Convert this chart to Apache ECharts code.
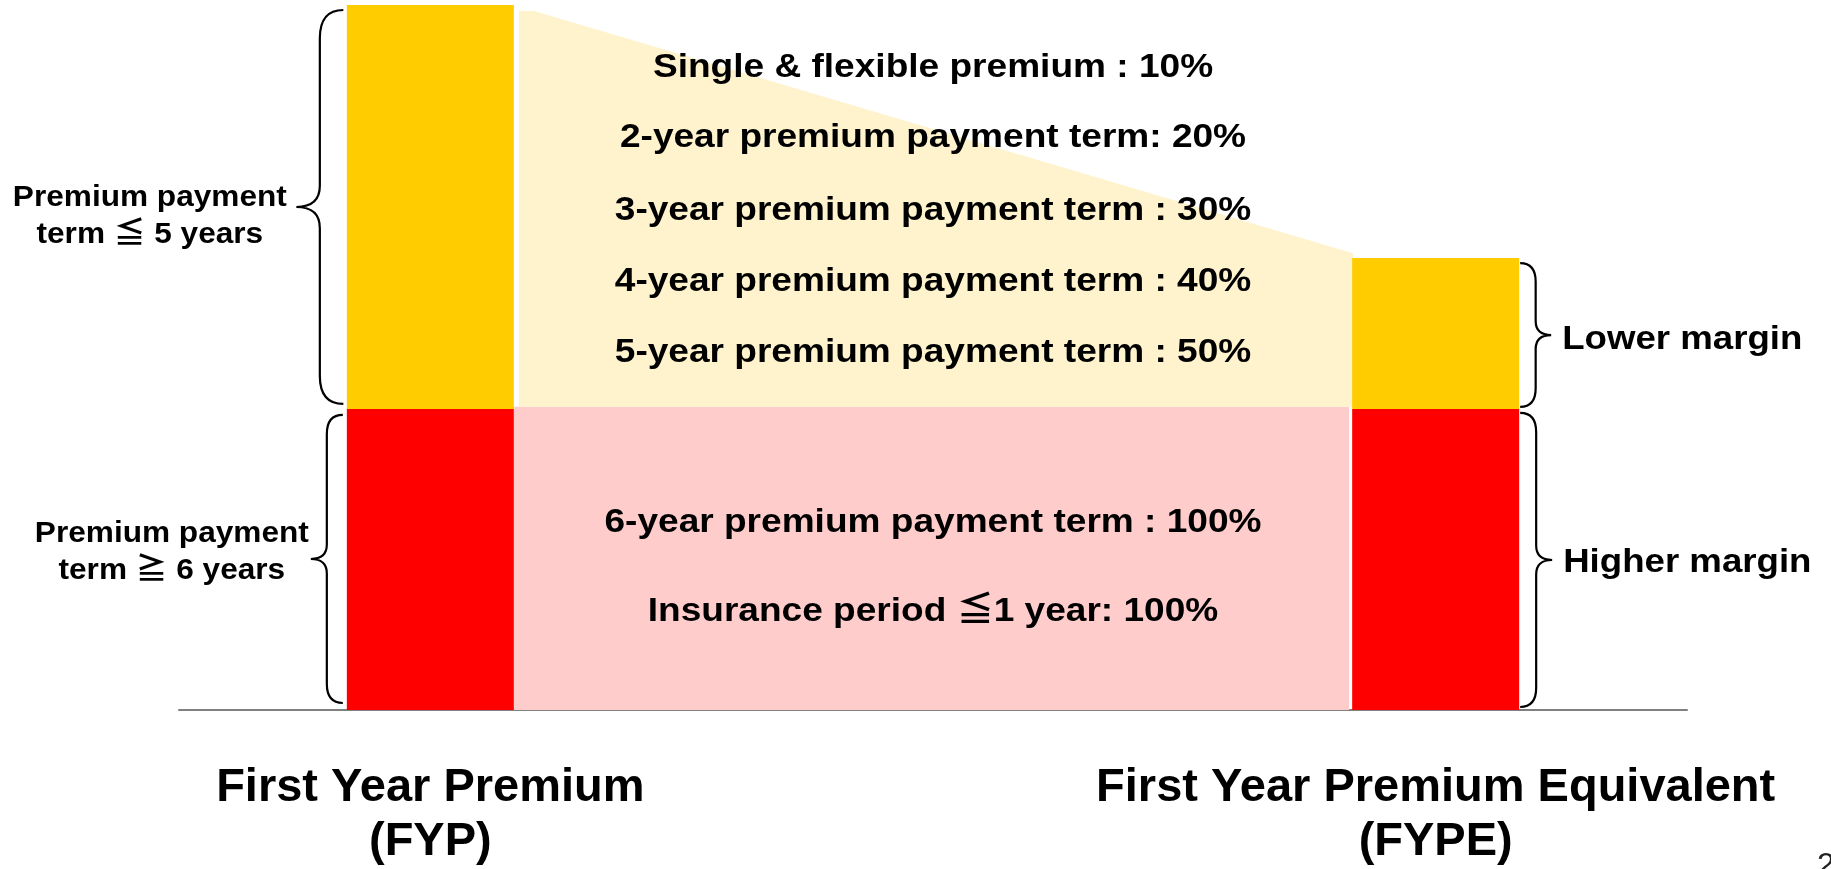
<!DOCTYPE html>
<html>
<head>
<meta charset="utf-8">
<title>FYP vs FYPE</title>
<script src="https://cdn.jsdelivr.net/npm/echarts@6/dist/echarts.min.js"></script>
<style>
html, body { margin: 0; padding: 0; background: #fff; }
#chart { width: 1831px; height: 869px; }
</style>
</head>
<body>
<div id="chart"></div>
<script>
// columns sit on slots 1 and 5 of a 7-slot category axis
var categories = ['First Year Premium\n(FYP)', 'First Year Premium Equivalent\n(FYPE)'];
var columnX = [1, 5];
var slotCount = 7;
var higherMargin = [42.7, 42.7]; // payment term >= 6 years
var lowerMargin = [57.3, 21.4];  // payment term <= 5 years

// pale band joining the two columns
var bandTop = [100, 64.8];
var bandSplit = 43.0;

// conversion notes in the middle
var noteX = 3;
var noteLines = [
    'Single & flexible premium : 10%',
    '2-year premium payment term: 20%',
    '3-year premium payment term : 30%',
    '4-year premium payment term : 40%',
    '5-year premium payment term : 50%',
    '6-year premium payment term : 100%',
    'Insurance period \u22661 year: 100%'
];
var noteY = [91.5, 81.6, 71.3, 61.2, 51.1, 27.0, 14.4];

// braces beside the columns
var braceLabels = ['Premium payment\nterm \u2266 5 years', 'Premium payment\nterm \u2267 6 years', 'Lower margin', 'Higher margin'];
var braceColumn = [0, 0, 1, 1];
var braceSegment = ['lower', 'higher', 'lower', 'higher'];

var FONT = '"Liberation Sans", Arial, "Noto Sans CJK JP", sans-serif';
var BAR_W = 167;
var TEXT_DY = 3; // canvas middle sits a little above the cap centre
var braceStyle = [
    { side: 'left', gap: 3.5, depth: 23.5, inset: [5, 5], dx: -146.5, dy: 7, size: 29, sx: 1.09 },
    { side: 'left', gap: 4, depth: 16, inset: [6, 7], dx: -139, dy: -9, size: 29, sx: 1.09 },
    { side: 'right', gap: 1, depth: 15.5, inset: [5, 2], dx: 11, dy: 2, size: 33, sx: 1.11 },
    { side: 'right', gap: 1, depth: 16, inset: [4, 3], dx: 11, dy: 0, size: 33, sx: 1.11 }
];

// slot names: column titles on their slots, blanks elsewhere
var slots = [];
for (var k = 0; k < slotCount; k++) {
    var c = columnX.indexOf(k);
    slots.push(c >= 0 ? categories[c] : '');
}

function pairs(xs, ys) {
    return xs.map(function (x, i) { return [x, ys[i]]; });
}

function renderBand(params, api) {
    var l0 = api.coord([columnX[0], 0]);
    var r0 = api.coord([columnX[1], 0]);
    var xL = l0[0] + BAR_W / 2;
    var xR = r0[0] - BAR_W / 2;
    var yBase = l0[1];
    var ySplit = api.coord([columnX[0], bandSplit])[1];
    var yStart = api.coord([columnX[0], bandTop[0]])[1];
    var yEnd = api.coord([columnX[1], bandTop[1]])[1];
    var yClip = yStart + 6;
    var xCorner = xL + (xR - xL) * (yClip - yStart) / (yEnd - yStart);
    return {
        type: 'group',
        children: [
            {
                type: 'rect',
                shape: { x: xL, y: ySplit, width: xR - 3 - xL, height: yBase - ySplit },
                style: { fill: '#FFCCCC' }
            },
            {
                type: 'polygon',
                shape: { points: [[xL + 5, yClip], [xCorner, yClip], [xR + 1, yEnd], [xR + 1, ySplit], [xL + 5, ySplit]] },
                style: { fill: '#FFF3CD' }
            }
        ]
    };
}

function renderNote(params, api) {
    var p = api.coord([api.value(0), api.value(1)]);
    return {
        type: 'text',
        x: p[0],
        y: p[1] + TEXT_DY,
        scaleX: 1.09,
        style: {
            text: noteLines[params.dataIndex],
            fill: '#000',
            font: 'bold 34px ' + FONT,
            align: 'center',
            verticalAlign: 'middle'
        }
    };
}

function renderBrace(params, api) {
    var i = params.dataIndex;
    var c = braceColumn[i];
    var s = braceStyle[i];
    var lo = braceSegment[i] === 'higher' ? 0 : higherMargin[c];
    var hi = braceSegment[i] === 'higher' ? higherMargin[c] : higherMargin[c] + lowerMargin[c];
    var pTop = api.coord([columnX[c], hi]);
    var pBot = api.coord([columnX[c], lo]);
    var dir = s.side === 'left' ? -1 : 1;
    var xe = pTop[0] + dir * (BAR_W / 2 + s.gap);
    var xm = xe + dir * s.depth;
    var xt = xm + dir * s.depth;
    var yt = pTop[1] + s.inset[0];
    var yb = pBot[1] - s.inset[1];
    var ym = (yt + yb) / 2;
    var re = s.depth * 1.2, rm = s.depth * 0.9;
    var d = 'M' + xe + ' ' + yt +
        ' Q' + xm + ' ' + yt + ' ' + xm + ' ' + (yt + re) +
        ' L' + xm + ' ' + (ym - rm) +
        ' Q' + xm + ' ' + ym + ' ' + xt + ' ' + ym +
        ' Q' + xm + ' ' + ym + ' ' + xm + ' ' + (ym + rm) +
        ' L' + xm + ' ' + (yb - re) +
        ' Q' + xm + ' ' + yb + ' ' + xe + ' ' + yb;
    return {
        type: 'group',
        children: [
            {
                type: 'path',
                shape: { pathData: d },
                style: { fill: 'none', stroke: '#000', lineWidth: 2.2 }
            },
            {
                type: 'text',
                x: xt + s.dx,
                y: ym + s.dy + TEXT_DY,
                scaleX: s.sx,
                style: {
                    text: braceLabels[i],
                    fill: '#000',
                    font: 'bold ' + s.size + 'px ' + FONT,
                    lineHeight: 37,
                    align: s.side === 'left' ? 'center' : 'left',
                    verticalAlign: 'middle'
                }
            }
        ]
    };
}

var myChart = echarts.init(document.getElementById('chart'));
var option = {
    animation: false,
    backgroundColor: '#fff',
    grid: { left: 179, right: 144, top: 5, bottom: 159 },
    xAxis: {
        type: 'category',
        data: slots,
        boundaryGap: false,
        splitLine: { show: false },
        axisTick: { show: false },
        axisLine: { show: true, lineStyle: { color: '#808080', width: 2 } },
        axisLabel: {
            interval: 0,
            margin: 51,
            fontSize: 47,
            fontWeight: 'bold',
            fontFamily: FONT,
            color: '#000',
            lineHeight: 54
        }
    },
    yAxis: { type: 'value', min: 0, max: 100, show: false },
    series: [
        {
            type: 'custom',
            z: 1,
            silent: true,
            renderItem: renderBand,
            data: [[columnX[0], bandSplit]]
        },
        {
            name: 'Higher margin',
            type: 'bar',
            stack: 'premium',
            z: 2,
            barWidth: BAR_W,
            itemStyle: { color: '#FF0000' },
            data: pairs(columnX, higherMargin)
        },
        {
            name: 'Lower margin',
            type: 'bar',
            stack: 'premium',
            z: 2,
            barWidth: BAR_W,
            itemStyle: { color: '#FFCC00' },
            data: pairs(columnX, lowerMargin)
        },
        {
            type: 'custom',
            z: 3,
            silent: true,
            renderItem: renderNote,
            data: noteY.map(function (y) { return [noteX, y]; })
        },
        {
            type: 'custom',
            z: 4,
            silent: true,
            renderItem: renderBrace,
            data: braceLabels.map(function (t, i) { return [columnX[braceColumn[i]], i]; })
        }
    ],
    graphic: [
        {
            type: 'text',
            left: 1817,
            top: 850,
            style: { text: '2', fill: '#222', font: '32px ' + FONT }
        }
    ]
};
myChart.setOption(option);
</script>
</body>
</html>
